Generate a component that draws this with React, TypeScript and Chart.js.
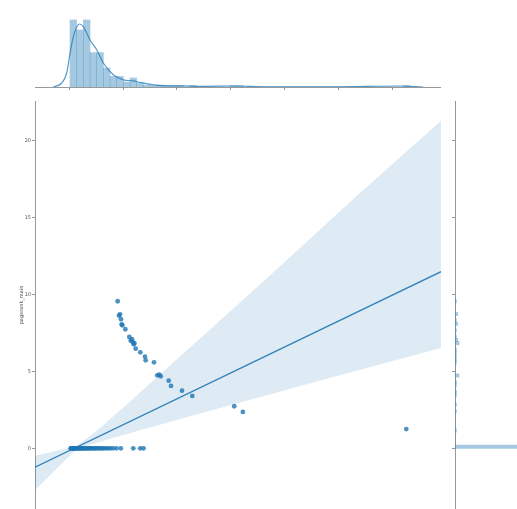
import React, { useEffect, useRef } from 'react';
import Chart from 'chart.js/auto';

// ---- shared scales ----
const X_MIN = -6.3;
const X_MAX = 68.9;
const X_TICK_STEP = 10;
const Y_MIN = -3.94;
const Y_MAX = 22.55;
const Y_TICK_STEP = 5;
const Y_LABEL = 'pagerank_main';

// ---- main scatter: points on y = 0 ----
const zeroX = [0.3, 0.4, 0.5, 0.6, 0.7, 0.8, 0.9, 1.0, 1.1, 1.2, 1.3, 1.5, 1.6, 1.7, 1.9, 2.0, 2.2, 2.3, 2.5, 2.7, 2.8, 3.0, 3.2, 3.4, 3.6, 3.8, 4.0, 4.3, 4.5, 4.8, 5.0, 5.3, 5.6, 5.9, 6.2, 6.5, 6.9, 7.3, 7.7, 8.2, 8.8, 9.6, 11.9, 13.2, 13.8];
// ---- main scatter: other points ----
const scatterX = [9.01, 9.44, 9.26, 9.63, 9.75, 9.87, 10.43, 11.17, 11.67, 11.42, 11.79, 12.1, 11.98, 12.35, 13.2, 14.07, 14.2, 15.74, 16.35, 16.72, 16.98, 18.46, 18.89, 20.93, 22.83, 30.6, 32.2, 62.47];
const scatterY = [9.55, 8.70, 8.61, 8.38, 8.05, 7.99, 7.73, 7.23, 7.08, 6.99, 6.90, 6.82, 6.75, 6.47, 6.23, 5.95, 5.71, 5.58, 4.74, 4.78, 4.68, 4.39, 4.05, 3.74, 3.40, 2.73, 2.36, 1.25];

// ---- regression line and confidence band ----
const regX = [-6.3, 68.9];
const regY = [-1.23, 11.47];
const ciX = [-6.3, -3.52, -0.74, 1.48, 3.89, 5.74, 10.37, 15.0, 24.26, 36.3, 42.78, 52.04, 68.89];
const ciUpper = [-0.48, -0.26, -0.03, 0.19, 0.80, 1.32, 2.75, 4.21, 7.13, 10.93, 13.01, 15.99, 21.27];
const ciLower = [-2.71, -1.77, -0.79, -0.05, 0.23, 0.42, 0.90, 1.35, 2.26, 3.42, 4.05, 4.92, 6.51];

// ---- top marginal histogram (density) ----
const HIST_X_START = 0.185;
const HIST_X_BIN = 1.235;
const histDensity = [0.335, 0.285, 0.335, 0.172, 0.172, 0.095, 0.053, 0.053, 0.025, 0.045, 0.02, 0.01, 0.0075, 0.01, 0.0075, 0.0075, 0.0075, 0, 0.0075, 0, 0, 0, 0, 0, 0.0075, 0.0075,
  0, 0, 0, 0, 0, 0, 0, 0, 0, 0, 0, 0, 0, 0, 0, 0, 0, 0, 0, 0, 0, 0, 0, 0, 0.0075];
const HIST_Y_MAX = 0.35;
// ---- top marginal KDE ----
const kdeX = [-2.91, -1.35, -0.43, 0.19, 0.8, 1.91, 2.65, 3.89, 5.13, 6.35, 8.2, 10.06, 11.9, 13.15, 15.6, 18.1, 21.2, 24.3, 30.4, 36.6, 48.9, 61.3, 65.6];
const kdeY = [0, 0.02, 0.07, 0.169, 0.251, 0.315, 0.302, 0.235, 0.186, 0.12, 0.061, 0.036, 0.031, 0.023, 0.011, 0.006, 0.006, 0.003, 0.005, 0.001, 0.001, 0.005, 0];

// ---- right marginal histogram (counts) ----
const HIST_Y_START = 0;
const HIST_Y_BIN = 0.21;
const yCounts = [300, 0, 0, 0, 0, 1, 0, 0, 0, 0, 0, 1, 0, 1, 0, 0, 1, 1, 0, 1, 1, 0, 3, 0, 0, 0, 1, 1, 1, 1, 1, 0, 3, 2, 1, 0, 1, 0, 2, 1, 0, 2, 0, 0, 0, 1];
const Y_COUNT_MAX = 45;

const BLUE = 'rgba(31,119,180,0.8)';
const HIST_BLUE = 'rgba(31,119,180,0.4)';
const SPINE = '#999999';

export default function App() {
  const topRef = useRef<HTMLCanvasElement>(null);
  const mainRef = useRef<HTMLCanvasElement>(null);
  const rightRef = useRef<HTMLCanvasElement>(null);

  useEffect(() => {
    Chart.defaults.font.family = 'DejaVu Sans';
    const charts: Chart[] = [];

    const basePlugins = { legend: { display: false }, tooltip: { enabled: false } };
    const layout = { padding: 0, autoPadding: false };

    // main
    const scatterPts = [
      ...zeroX.map((x) => ({ x, y: 0 })),
      ...scatterX.map((x, i) => ({ x, y: scatterY[i] })),
    ];
    charts.push(new Chart(mainRef.current!, {
      type: 'scatter',
      data: {
        datasets: [
          { type: 'scatter', data: scatterPts, backgroundColor: BLUE, borderWidth: 0, pointRadius: 2.4, order: 0 } as any,
          { type: 'line', data: regX.map((x, i) => ({ x, y: regY[i] })), borderColor: 'rgba(31,119,180,0.9)', borderWidth: 1.3, pointRadius: 0, fill: false, order: 1 } as any,
          { type: 'line', data: ciX.map((x, i) => ({ x, y: ciLower[i] })), borderColor: 'rgba(0,0,0,0)', borderWidth: 0, pointRadius: 0, fill: false, order: 3 } as any,
          { type: 'line', data: ciX.map((x, i) => ({ x, y: ciUpper[i] })), borderColor: 'rgba(0,0,0,0)', borderWidth: 0, pointRadius: 0, fill: '-1', backgroundColor: 'rgba(31,119,180,0.15)', order: 2 } as any,
        ],
      },
      options: {
        animation: false,
        responsive: false,
        events: [],
        layout: layout as any,
        plugins: basePlugins as any,
        scales: {
          x: { type: 'linear', display: false, min: X_MIN, max: X_MAX },
          y: {
            type: 'linear', min: Y_MIN, max: Y_MAX,
            border: { display: true, color: SPINE, width: 1 },
            grid: { display: true, drawOnChartArea: false, drawTicks: true, tickLength: 3, tickColor: SPINE },
            ticks: { stepSize: Y_TICK_STEP, includeBounds: false, padding: 1, font: { size: 5 }, color: '#555' },
            title: { display: true, text: Y_LABEL, font: { size: 5 }, color: '#444', padding: { top: 19, bottom: 0 } },
            afterFit: (s: any) => { s.width = 35; s.paddingTop = 0; s.paddingBottom = 0; },
          } as any,
        },
      },
    }));

    // top marginal
    charts.push(new Chart(topRef.current!, {
      type: 'bar',
      data: {
        datasets: [
          { type: 'line', data: kdeX.map((x, i) => ({ x, y: kdeY[i] })), borderColor: 'rgba(31,119,180,0.75)', borderWidth: 1.2, pointRadius: 0, cubicInterpolationMode: 'monotone', fill: false, order: 0 } as any,
          { type: 'bar', data: histDensity.map((v, i) => ({ x: HIST_X_START + HIST_X_BIN * (i + 0.5), y: v })), backgroundColor: HIST_BLUE, borderWidth: 0, barPercentage: 1, categoryPercentage: 1, order: 1 } as any,
        ],
      },
      options: {
        animation: false,
        responsive: false,
        events: [],
        layout: layout as any,
        plugins: basePlugins as any,
        scales: {
          x: {
            type: 'linear', min: X_MIN, max: X_MAX, offset: false,
            border: { display: true, color: SPINE, width: 1 },
            grid: { display: true, offset: false, drawOnChartArea: false, drawTicks: true, tickLength: 3, tickColor: SPINE },
            ticks: { display: false, stepSize: X_TICK_STEP, includeBounds: false },
          } as any,
          y: { type: 'linear', display: false, min: 0, max: HIST_Y_MAX },
        },
      },
    }));

    // right marginal
    charts.push(new Chart(rightRef.current!, {
      type: 'bar',
      data: {
        datasets: [
          { data: yCounts.map((v, i) => ({ x: v, y: HIST_Y_START + HIST_Y_BIN * (i + 0.5) })), backgroundColor: HIST_BLUE, borderWidth: 0, barPercentage: 1, categoryPercentage: 1 } as any,
        ],
      },
      options: {
        indexAxis: 'y',
        animation: false,
        responsive: false,
        events: [],
        layout: layout as any,
        plugins: basePlugins as any,
        scales: {
          x: { type: 'linear', display: false, min: 0, max: Y_COUNT_MAX },
          y: {
            type: 'linear', min: Y_MIN, max: Y_MAX, offset: false,
            border: { display: true, color: SPINE, width: 1 },
            grid: { display: true, offset: false, drawOnChartArea: false, drawTicks: true, tickLength: 3, tickColor: SPINE },
            ticks: { display: false, stepSize: Y_TICK_STEP, includeBounds: false },
            afterFit: (s: any) => { s.width = 3; s.paddingTop = 0; s.paddingBottom = 0; },
          } as any,
        },
      },
    }));

    return () => charts.forEach((c) => c.destroy());
  }, []);

  const abs = (left: number, top: number, w: number, h: number): React.CSSProperties => ({
    position: 'absolute', left, top, width: w, height: h, display: 'block',
  });

  return (
    <div style={{ position: 'absolute', left: 0, top: 0, width: 517, height: 509, background: '#fff', overflow: 'hidden' }}>
      <canvas ref={topRef} width={406} height={73} style={abs(35, 17, 406, 73)} />
      <canvas ref={mainRef} width={441} height={408} style={abs(0, 101, 441, 408)} />
      <canvas ref={rightRef} width={65} height={408} style={abs(452, 101, 65, 408)} />
    </div>
  );
}
